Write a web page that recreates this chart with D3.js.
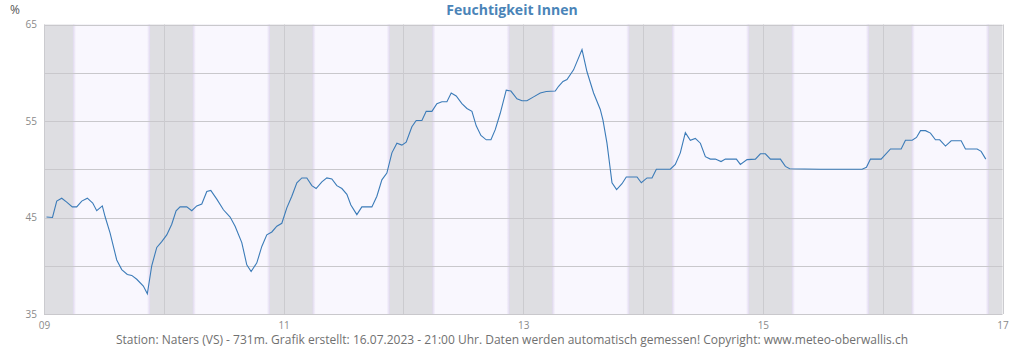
<!DOCTYPE html>
<html>
<head>
<meta charset="utf-8">
<script src="https://cdn.jsdelivr.net/npm/d3@7"></script>
<style>
  html, body { margin: 0; padding: 0; background: #ffffff; }
  svg { display: block; font-family: "Open Sans", sans-serif; }
</style>
</head>
<body>
<svg id="chart" width="1024" height="350"></svg>
<script>
// Indoor humidity, hours since 09.07.2023 00:00 and percent
const hours = [0.5, 1.7, 2.55, 3.55, 4.55, 5.67, 6.55, 7.56, 8.68, 9.76, 10.56, 11.68, 12.23, 13.23, 14.57, 15.57,
  16.69, 17.58, 18.58, 19.9, 20.7, 21.58, 22.59, 23.59, 24.59, 25.59, 26.46, 27.26, 28.6, 29.6, 30.6, 31.61,
  32.61, 33.41, 34.61, 35.94, 37.28, 38.28, 39.62, 40.62, 41.49, 42.63, 43.63, 44.63, 45.64, 46.64, 47.64,
  48.64, 49.64, 50.65, 51.65, 52.65, 53.65, 54.51, 55.66, 56.66, 57.66, 58.66, 59.67, 60.67, 61.47, 62.67,
  63.67, 65.68, 66.68, 67.68, 68.68, 69.69, 70.69, 71.69, 72.55, 73.69, 74.56, 75.7, 76.56, 77.7, 78.7,
  79.71, 80.71, 81.57, 82.57, 83.71, 84.72, 85.72, 86.58, 87.52, 88.59, 89.53, 90.39, 91.39, 92.59, 93.53,
  94.74, 95.74, 96.74, 98.07, 99.41, 100.61, 102.41, 103.08, 103.96, 104.76, 106.08, 107.77, 108.77, 110.09,
  111.43, 111.97, 112.77, 113.78, 114.7, 115.78, 116.64, 118.79, 119.65, 120.79, 121.79, 122.66, 125.46,
  126.46, 127.46, 128.47, 129.47, 130.47, 131.48, 132.48, 133.48, 134.48, 135.62, 136.49, 138.69, 139.49,
  140.83, 142.5, 143.5, 144.5, 145.51, 147.51, 148.51, 149.37, 155.5, 163.88, 164.75, 165.55, 167.69,
  169.56, 171.7, 172.56, 173.91, 174.77, 175.57, 176.57, 177.57, 178.57, 179.43, 180.58, 181.72, 183.72,
  184.58, 186.92, 187.72, 188.65];
const humidity = [45.05, 45.0, 46.7, 47.0, 46.6, 46.1, 46.1, 46.7, 47.0, 46.5, 45.7, 46.2, 45.1, 43.4, 40.6, 39.6,
  39.1, 39.0, 38.6, 37.9, 37.1, 40.0, 41.9, 42.5, 43.2, 44.3, 45.7, 46.1, 46.1, 45.7, 46.2, 46.4,
  47.7, 47.8, 46.9, 45.8, 45.05, 44.1, 42.4, 40.1, 39.4, 40.3, 42.0, 43.2, 43.5, 44.1, 44.4,
  46.0, 47.2, 48.6, 49.1, 49.1, 48.3, 48.0, 48.7, 49.1, 49.0, 48.3, 48.0, 47.4, 46.3, 45.3,
  46.1, 46.1, 47.2, 48.9, 49.6, 51.7, 52.7, 52.5, 52.8, 54.4, 55.05, 55.05, 56.0, 56.0, 56.8,
  57.0, 57.0, 57.9, 57.6, 56.8, 56.3, 56.0, 54.5, 53.5, 53.05, 53.05, 54.1, 55.8, 58.2, 58.1,
  57.3, 57.1, 57.1, 57.5, 57.9, 58.05, 58.1, 58.6, 59.1, 59.3, 60.3, 62.4, 60.1, 57.9,
  56.2, 55.1, 52.7, 48.6, 47.9, 48.5, 49.2, 49.2, 48.6, 49.1, 49.1, 50.0, 50.0,
  50.5, 51.7, 53.8, 53.0, 53.2, 52.7, 51.3, 51.05, 51.05, 50.8, 51.05, 51.05, 50.5,
  51.0, 51.05, 51.6, 51.6, 51.05, 51.05, 50.3, 50.05, 50.0, 50.0, 50.2, 51.05, 51.05,
  52.1, 52.1, 53.0, 53.0, 53.3, 54.0, 54.0, 53.75, 53.05, 53.05, 52.4, 52.95, 52.95,
  52.1, 52.1, 51.85, 51.05];

// Daylight window (hours of day) used for the day/night shading
const sunriseHour = 5.8;
const sunsetHour = 21.25;
const dayCount = 8;

const yTickLabels = [35, 45, 55, 65];
const yGridValues = [35, 40, 45, 50, 55, 60, 65];

const titleText = "Feuchtigkeit Innen";
const unitText = "%";
const footerText = "Station: Naters (VS) - 731m. Grafik erstellt: 16.07.2023 - 21:00 Uhr. Daten werden automatisch gemessen! Copyright: www.meteo-oberwallis.ch";

const start = new Date(2023, 6, 9, 0, 0);
const hourToDate = h => new Date(start.getTime() + h * 3600e3);

const svg = d3.select("#chart");
const plotLeft = 44, plotRight = 1002.5, plotTop = 24.5, plotBottom = 314;

const x = d3.scaleTime()
  .domain([start, hourToDate(dayCount * 24)])
  .range([plotLeft, plotRight]);
const y = d3.scaleLinear().domain([35, 65]).range([plotBottom, plotTop]);

// Gradient for daylight bands: soft lavender edges
const defs = svg.append("defs");
const grad = defs.append("linearGradient").attr("id", "dayGrad")
  .attr("x1", "0%").attr("x2", "100%").attr("y1", "0%").attr("y2", "0%");
[[0, "#e0d8ee"], [0.012, "#e8e2f4"], [0.04, "#f9f7fe"], [0.96, "#f9f7fe"], [0.988, "#e8e2f4"], [1, "#e0d8ee"]]
  .forEach(([o, c]) => grad.append("stop").attr("offset", o).attr("stop-color", c));

// Night background over the whole plot
svg.append("rect")
  .attr("x", plotLeft).attr("y", plotTop)
  .attr("width", plotRight - plotLeft).attr("height", plotBottom - plotTop)
  .attr("fill", "#dedee2");

const days = d3.range(dayCount);
svg.append("g").selectAll("rect").data(days).join("rect")
  .attr("x", d => x(hourToDate(d * 24 + sunriseHour)))
  .attr("y", plotTop)
  .attr("width", d => x(hourToDate(d * 24 + sunsetHour)) - x(hourToDate(d * 24 + sunriseHour)))
  .attr("height", plotBottom - plotTop)
  .attr("fill", "url(#dayGrad)");

// Horizontal grid
svg.append("g").selectAll("line").data(yGridValues).join("line")
  .attr("x1", plotLeft).attr("x2", plotRight)
  .attr("y1", d => Math.round(y(d)) + 0.5).attr("y2", d => Math.round(y(d)) + 0.5)
  .attr("stroke", "#c9c8cc").attr("stroke-width", 1);

// Vertical grid at midnight
svg.append("g").selectAll("line").data(d3.range(dayCount + 1)).join("line")
  .attr("x1", d => Math.round(x(hourToDate(d * 24))) + 0.5)
  .attr("x2", d => Math.round(x(hourToDate(d * 24))) + 0.5)
  .attr("y1", plotTop).attr("y2", plotBottom)
  .attr("stroke", "#cbcbcf").attr("stroke-width", 1);

// Humidity line
const points = hours.map((h, i) => [hourToDate(h), humidity[i]]);
svg.append("path")
  .datum(points)
  .attr("fill", "none")
  .attr("stroke", "#3b7bb8")
  .attr("stroke-width", 1.1)
  .attr("d", d3.line().x(d => x(d[0])).y(d => y(d[1])));

// Y axis labels
const yAxis = d3.axisLeft(y).tickValues(yTickLabels).tickSize(0).tickPadding(7);
const gy = svg.append("g").attr("transform", `translate(${plotLeft},0)`).call(yAxis);
gy.select(".domain").remove();
gy.selectAll("text").attr("fill", "#8a8a8a").style("font-size", "10px")
  .style("font-family", "'Open Sans', sans-serif");

// X axis labels every second day
const xAxis = d3.axisBottom(x).ticks(d3.timeDay.every(2)).tickFormat(d3.timeFormat("%d")).tickSize(0).tickPadding(8);
const gx = svg.append("g").attr("transform", `translate(0,${plotBottom})`).call(xAxis);
gx.select(".domain").remove();
gx.selectAll("text").attr("fill", "#8a8a8a").style("font-size", "10px")
  .style("font-family", "'Open Sans', sans-serif");

// Title, unit and footer
svg.append("text")
  .attr("x", 512).attr("y", 15)
  .attr("text-anchor", "middle")
  .attr("fill", "#4a84b8")
  .style("font-size", "14px").style("font-weight", "bold")
  .text(titleText);

svg.append("text")
  .attr("x", 10).attr("y", 14)
  .attr("fill", "#555")
  .style("font-size", "12px")
  .text(unitText);

svg.append("text")
  .attr("x", 116).attr("y", 344)
  .attr("fill", "#707070")
  .style("font-size", "12px")
  .attr("textLength", 792)
  .attr("lengthAdjust", "spacingAndGlyphs")
  .text(footerText);
</script>
</body>
</html>
